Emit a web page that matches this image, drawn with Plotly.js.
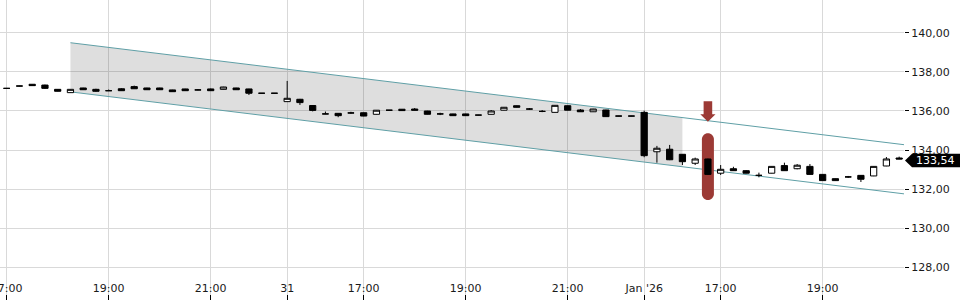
<!DOCTYPE html>
<html><head><meta charset="utf-8">
<script src="https://cdn.plot.ly/plotly-3.0.1.min.js"></script>
<style>html,body{margin:0;padding:0;background:#fff}#chart{width:960px;height:300px}</style>
</head><body><div id="chart"></div>
<script>
// 15-minute candles, index 0 = first visible candle (17:00)
const openP  = [137.16,137.28,137.37,137.33,137.11,136.94,137.18,137.11,137.04,137.14,
                137.25,137.18,137.18,137.08,137.13,137.08,137.13,137.11,137.18,137.13,
                136.91,136.91,136.48,136.60,136.28,135.85,135.88,135.90,135.91,135.83,
                136.04,136.09,136.10,136.00,135.85,135.85,135.85,135.79,135.83,136.04,
                136.27,136.10,135.98,135.93,136.27,136.05,135.96,136.05,135.74,135.74,
                135.93,133.91,134.04,133.78,133.32,133.54,132.81,133.04,132.94,132.70,
                132.81,133.20,133.04,133.16,132.75,132.53,132.62,132.70,132.67,133.18,
                133.59];
const highP  = [137.18,137.29,137.38,137.35,137.12,137.12,137.19,137.14,137.10,137.17,
                137.30,137.19,137.19,137.09,137.14,137.12,137.15,137.24,137.19,137.14,
                136.92,136.92,137.54,136.62,136.30,135.97,135.89,135.96,135.92,136.05,
                136.05,136.10,136.15,136.01,135.91,135.86,135.86,135.80,136.05,136.20,
                136.28,136.15,136.05,136.30,136.28,136.10,136.11,136.06,135.75,135.75,
                136.02,134.21,134.26,133.79,133.61,133.56,133.23,133.14,132.97,132.84,
                133.17,133.35,133.28,133.28,132.76,132.54,132.67,132.71,133.17,133.64,
                133.66];
const lowP   = [137.14,137.27,137.30,137.13,137.00,136.93,137.08,136.98,137.03,137.03,
                137.13,137.08,137.08,136.98,137.03,137.06,137.03,137.10,137.08,136.82,
                136.90,136.90,136.47,136.31,135.98,135.84,135.68,135.86,135.73,135.82,
                136.03,136.01,136.03,135.82,135.79,135.75,135.75,135.78,135.82,136.03,
                136.18,136.06,135.94,135.92,136.03,135.95,135.95,135.70,135.73,135.73,
                133.63,133.35,133.48,133.23,133.23,132.72,132.72,132.93,132.80,132.60,
                132.80,132.93,133.01,132.74,132.42,132.42,132.57,132.36,132.66,133.17,
                133.53];
const closeP = [137.16,137.28,137.30,137.16,137.01,137.11,137.09,137.01,137.04,137.04,
                137.14,137.09,137.09,136.99,137.04,137.08,137.04,137.23,137.09,136.91,
                136.91,136.91,136.65,136.43,136.03,135.85,135.76,135.90,135.74,136.04,
                136.04,136.02,136.04,135.83,135.85,135.76,135.76,135.79,136.00,136.19,
                136.19,136.10,135.98,136.29,136.04,135.96,136.10,135.71,135.74,135.74,
                133.71,134.09,133.50,133.40,133.54,132.75,133.01,132.94,132.81,132.70,
                133.16,132.94,133.22,132.75,132.43,132.43,132.62,132.50,133.16,133.54,
                133.54];
const tickIdx  = [0, 8, 16, 22, 28, 36, 44, 50, 56, 64];
const tickText = ['17:00','19:00','21:00','31','17:00','19:00','21:00',"Jan '26",'17:00','19:00'];
const yTicks   = [128, 130, 132, 134, 136, 138, 140];

// trend channel (index, price)
const channelX     = [5, 70.4];
const channelUpper = [139.50, 134.27];
const channelLower = [136.98, 131.75];
const shadeEndIdx  = 53;
const signalIdx    = 55;
const lastPrice    = 133.54;

const idx = openP.map((_, i) => i);

function lerp(xs, ys, x) {
  return ys[0] + (ys[1] - ys[0]) * (x - xs[0]) / (xs[1] - xs[0]);
}
const upEnd = lerp(channelX, channelUpper, shadeEndIdx);
const loEnd = lerp(channelX, channelLower, shadeEndIdx);
const upSig = lerp(channelX, channelUpper, signalIdx);
const sigMid = (openP[signalIdx] + closeP[signalIdx]) / 2;

const teal = '#5f9fa6';
const red = '#9c3a35';

const trace = {
  type: 'candlestick',
  x: idx, open: openP, high: highP, low: lowP, close: closeP,
  increasing: {line: {color: '#000', width: 1}, fillcolor: '#fff'},
  decreasing: {line: {color: '#000', width: 1}, fillcolor: '#000'},
  whiskerwidth: 0,
  hoverinfo: 'skip',
  showlegend: false
};

const r = 6, k = 3.31, h = 33.35, s = h - r;
const pillPath = `M -${r},-${s} L -${r},${s} C -${r},${s+k} -${k},${h} 0,${h} C ${k},${h} ${r},${s+k} ${r},${s} ` +
                 `L ${r},-${s} C ${r},-${s+k} ${k},-${h} 0,-${h} C -${k},-${h} -${r},-${s+k} -${r},-${s} Z`;
const arrowPath = 'M 0,-1 L 7.6,6.5 L 4.3,6.5 L 4.3,19.5 L -4.3,19.5 L -4.3,6.5 L -7.6,6.5 Z';

const layout = {
  width: 960, height: 300,
  margin: {l: 0, r: 56, t: 0, b: 0},
  paper_bgcolor: '#fff', plot_bgcolor: '#fff',
  font: {family: 'DejaVu Sans, sans-serif', size: 11, color: '#1a1a1a'},
  separators: ',.',
  showlegend: false,
  xaxis: {
    range: [-0.525, 70.38],
    tickmode: 'array', tickvals: tickIdx, ticktext: tickText,
    showgrid: true, gridcolor: '#d9d9d9', gridwidth: 1,
    zeroline: false, showline: false,
    ticks: 'inside', ticklen: 5, tickcolor: '#000', tickwidth: 1,
    ticklabelposition: 'inside',
    ticklabeloverflow: 'allow',
    tickfont: {size: 11, color: '#1a1a1a'},
    rangeslider: {visible: false},
    fixedrange: true
  },
  yaxis: {
    range: [126.31, 141.69],
    side: 'right',
    tickmode: 'array', tickvals: yTicks,
    tickformat: '.2f',
    showgrid: true, gridcolor: '#d9d9d9', gridwidth: 1,
    zeroline: false, showline: false,
    ticks: 'outside', ticklen: 4, tickcolor: '#000', tickwidth: 1,
    tickfont: {size: 11, color: '#1a1a1a'},
    fixedrange: true
  },
  shapes: [
    // hide gridlines in the x label strip
    {type: 'rect', xref: 'paper', yref: 'paper', x0: 0, x1: 1, y0: 0, y1: 20/300,
     fillcolor: '#fff', line: {width: 0}, layer: 'between'},
    // shaded channel
    {type: 'path', xref: 'x', yref: 'y', layer: 'between',
     path: `M ${channelX[0]},${channelUpper[0]} L ${shadeEndIdx},${upEnd} L ${shadeEndIdx},${loEnd} L ${channelX[0]},${channelLower[0]} Z`,
     fillcolor: 'rgba(0,0,0,0.13)', line: {width: 0}},
    {type: 'line', xref: 'x', yref: 'y', layer: 'between',
     x0: channelX[0], y0: channelUpper[0], x1: channelX[1], y1: channelUpper[1],
     line: {color: teal, width: 1}},
    {type: 'line', xref: 'x', yref: 'y', layer: 'between',
     x0: channelX[0], y0: channelLower[0], x1: channelX[1], y1: channelLower[1],
     line: {color: teal, width: 1}},
    // signal pill behind candle
    {type: 'path', xref: 'x', yref: 'y', layer: 'between',
     xsizemode: 'pixel', xanchor: signalIdx, ysizemode: 'pixel', yanchor: sigMid,
     path: pillPath, fillcolor: red, line: {width: 0}},
    // arrow pointing at upper channel line
    {type: 'path', xref: 'x', yref: 'y', layer: 'above',
     xsizemode: 'pixel', xanchor: signalIdx, ysizemode: 'pixel', yanchor: upSig,
     path: arrowPath, fillcolor: red, line: {width: 0}},
    // last price tag
    {type: 'path', xref: 'paper', yref: 'y', layer: 'above',
     xsizemode: 'pixel', xanchor: 1, ysizemode: 'pixel', yanchor: lastPrice,
     path: 'M 1,-1.5 L 8,5.3 L 56,5.3 L 56,-8.3 L 8,-8.3 Z', fillcolor: '#000', line: {width: 0}}
  ],
  annotations: [
    {xref: 'paper', yref: 'y', x: 1, y: lastPrice, xanchor: 'left', yanchor: 'middle',
     xshift: 10, yshift: -1.5, showarrow: false, text: lastPrice.toFixed(2).replace('.', ','),
     font: {size: 11, color: '#fff', family: 'DejaVu Sans, sans-serif'}}
  ]
};

Plotly.newPlot('chart', [trace], layout, {staticPlot: true, displayModeBar: false});
</script></body></html>
